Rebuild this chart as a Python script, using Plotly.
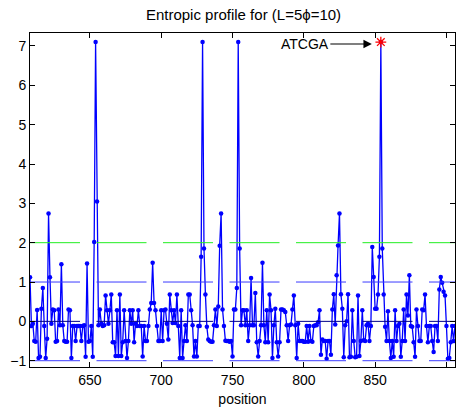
import plotly.graph_objects as go

# sequence positions (one entropy value per position)
start_pos = 608
end_pos = 906

# entropic profile values, 10 per row starting at the position in the comment
entropy = [
    # 608
    1.12, -0.12, -0.06, -0.5, -0.52, 0.29, -0.93, -0.9, 0.32, 0.85,
    # 618
    -0.12, -0.93, -0.44, 2.74, 1.12, -0.06, 0.3, 0.28, -0.52, -0.5,
    # 628
    0.3, -0.1, 1.45, -0.1, -0.5, -0.52, -0.52, 0.3, 0.28, -0.93,
    # 638
    -0.12, -0.12, -0.5, -0.12, -0.12, -0.12, -0.5, -0.12, -0.1, -0.9,
    # 648
    1.47, -0.52, -0.5, -0.12, -0.9, 2.02, 7.1, 3.05, -0.1, 0.3,
    # 658
    -0.06, -0.12, -0.1, 0.66, 0.28, -0.06, 0.28, 0.68, -0.53, -0.53,
    # 668
    -0.88, 0.28, -0.88, 0.68, -0.88, -0.53, 0.28, -0.5, -0.93, -0.5,
    # 678
    0.28, -0.06, 0.28, -0.53, -0.06, -0.12, 0.28, -0.12, -0.12, -0.89,
    # 688
    -0.12, -0.5, -0.5, -0.12, 0.3, 0.47, 1.49, 0.47, 0.28, -0.12,
    # 698
    -0.5, -0.5, 0.28, -0.5, 0.28, 0.3, -0.06, -0.46, 0.68, 0.28,
    # 708
    -0.04, 0.28, -0.04, 0.68, -0.12, -0.93, 0.28, -0.93, -0.5, -0.1,
    # 718
    -0.5, 0.68, 0.68, 0.28, -0.1, -0.89, -0.5, -0.89, -0.12, -0.12,
    # 728
    1.64, 7.1, 1.85, 0.68, -0.14, -0.46, -0.5, -0.52, -0.52, -0.1,
    # 738
    0.3, -0.12, 0.38, 1.92, 2.74, 0.3, -0.12, -0.49, -0.5, -0.5,
    # 748
    -0.52, -0.5, -0.89, 0.3, 0.3, 0.85, 7.1, 1.85, -0.1, 0.28,
    # 758
    0.28, -0.1, 0.28, -0.5, -0.1, 1.1, -0.1, -0.1, 0.72, -0.53,
    # 768
    -0.89, -0.5, -0.1, 1.49, -0.1, -0.53, 0.28, -0.53, 0.68, 0.28,
    # 778
    -0.93, -0.1, 0.32, -0.53, -0.89, -0.53, 0.3, 0.3, 0.28, 0.24,
    # 788
    -0.1, -0.5, -0.1, -0.08, 0.3, 0.66, -0.1, -0.93, -0.06, -0.5,
    # 798
    -0.5, -0.5, -0.52, -0.52, -0.12, -0.52, -0.12, -0.5, -0.52, -0.12,
    # 808
    -0.1, -0.1, -0.02, 0.28, -0.85, -0.46, -0.5, -0.5, -0.95, -0.5,
    # 818
    -0.5, -0.85, 0.3, 0.69, -0.08, 1.17, 1.93, 2.74, 0.69, 0.32,
    # 828
    -0.91, -0.1, 0.0, 0.69, -0.91, -0.9, 0.28, -0.5, -0.91, -0.9,
    # 838
    0.66, -0.88, -0.5, 0.28, -0.48, -0.5, -0.1, -0.06, -0.5, -0.12,
    # 848
    1.89, 1.13, 0.32, 0.32, 0.68, 1.64, 7.1, 1.85, 0.68, -0.14,
    # 858
    -0.5, 0.26, -0.5, -0.93, -0.5, -0.9, 0.28, -0.5, -0.12, -0.06,
    # 868
    -0.9, -0.5, 0.3, -0.5, 0.68, 0.15, 1.17, -0.12, -0.14, -0.53,
    # 878
    -0.9, 0.3, -0.12, -0.5, -0.5, 0.3, 0.28, 0.68, -0.12, -0.53,
    # 888
    -0.12, -0.12, -0.5, -0.78, -0.12, -0.12, -0.5, 0.81, 1.13, 0.98,
    # 898
    0.75, 0.66, -0.12, -0.95, -0.93, -0.53, -0.12, -0.5, -0.12,
]
positions = list(range(start_pos, end_pos + 1))
assert len(positions) == len(entropy)

# highlighted motif
motif_label = "ATCGA"
motif_pos = 854
motif_value = 7.1

# horizontal reference levels and their colours
ref_levels = [2, 1, 0, -1]
ref_colors = ["#22ee22", "#3a3aff", "#00008b", "#3a3aff"]

x_ticks = [650, 700, 750, 800, 850, 900]
y_ticks = [-1, 0, 1, 2, 3, 4, 5, 6, 7]

FONT = "Liberation Sans, Arial, Helvetica, sans-serif"

fig = go.Figure()

fig.add_trace(go.Scatter(
    x=positions, y=entropy, mode="lines+markers",
    line=dict(color="#0000ff", width=1.3),
    marker=dict(color="#0000ff", size=4.5),
    showlegend=False, hoverinfo="x+y",
))

for level, color in zip(ref_levels, ref_colors):
    fig.add_trace(go.Scatter(
        x=[start_pos, end_pos], y=[level, level], mode="lines",
        line=dict(color=color, width=1, dash="50px,16.5px"),
        showlegend=False, hoverinfo="skip",
    ))

fig.add_trace(go.Scatter(
    x=[motif_pos], y=[motif_value], mode="markers",
    marker=dict(symbol="asterisk-open", size=9, color="#ff0000",
                line=dict(color="#ff0000", width=1.3)),
    showlegend=False, hoverinfo="x+y",
))

fig.add_annotation(
    x=motif_pos, y=motif_value - 0.05, xref="x", yref="y",
    text=motif_label, showarrow=True,
    ax=-76, ay=0, axref="pixel", ayref="pixel",
    arrowhead=2, arrowsize=1.4, arrowwidth=1.2, arrowcolor="black",
    standoff=9,
    font=dict(family=FONT, size=14, color="black"),
)

axis_common = dict(
    showline=True, linecolor="black", linewidth=1, mirror="ticks",
    ticks="inside", ticklen=5, tickcolor="black",
    showgrid=False, zeroline=False,
    tickfont=dict(family=FONT, size=14, color="black"),
)

fig.update_layout(
    width=456, height=409,
    margin=dict(l=30, r=1, t=33, b=42),
    paper_bgcolor="white", plot_bgcolor="white",
    title=dict(text="Entropic profile for (L=5ϕ=10)", x=0.534, xanchor="center",
               y=0.963, yanchor="middle",
               font=dict(family=FONT, size=15, color="black")),
    xaxis=dict(range=[start_pos, end_pos], tickvals=x_ticks,
               title=dict(text="position", standoff=7,
                          font=dict(family=FONT, size=14, color="black")),
               **axis_common),
    yaxis=dict(range=[-1.16, 7.33], tickvals=y_ticks, **axis_common),
)

fig.write_html("out.html")
